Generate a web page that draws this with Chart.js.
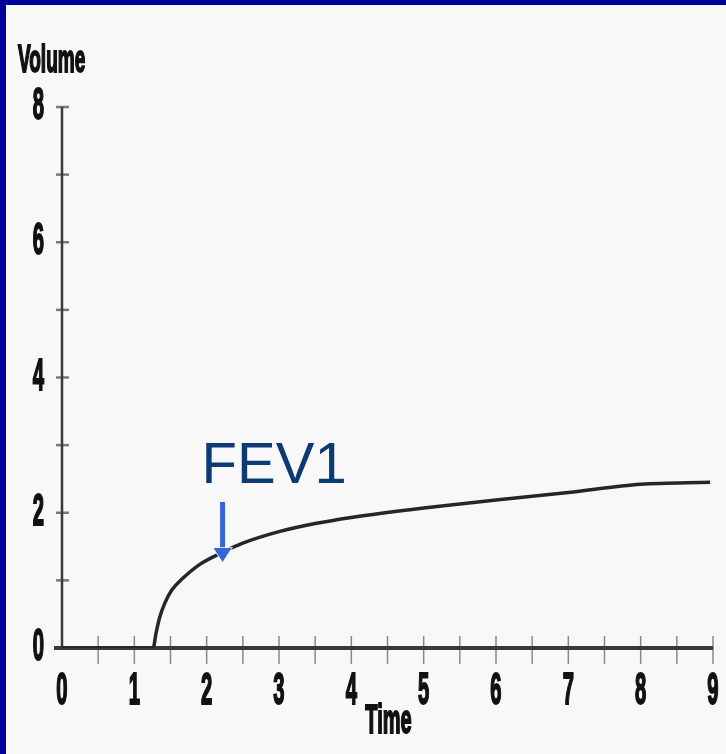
<!DOCTYPE html>
<html>
<head>
<meta charset="utf-8">
<script src="https://cdn.jsdelivr.net/npm/chart.js@4"></script>
<style>
    body { margin: 0; background: #000099; width: 726px; height: 754px; overflow: hidden; }
    #wrap { position: absolute; left: 6px; top: 5px; width: 720px; height: 749px; background: #f8f8f8; }
</style>
</head>
<body>
<div id="wrap"><canvas id="spiroChart" width="720" height="749"></canvas></div>
<script>
// Spirometry curve - volume against time

const timeValues = [0, 1.26, 1.30, 1.35, 1.42, 1.52, 1.67, 1.91, 2.21, 2.50, 3.00, 3.50, 4.00, 5.00, 6.00, 7.00, 8.00, 8.96];
const volumeValues = [0, 0, 0.22, 0.45, 0.66, 0.86, 1.03, 1.24, 1.41, 1.55, 1.72, 1.84, 1.93, 2.07, 2.19, 2.30, 2.42, 2.45];

const xTickLabels = ['0', '1', '2', '3', '4', '5', '6', '7', '8', '9'];
const yTickLabels = ['0', '2', '4', '6', '8'];
const xTickMarks = [0.5, 1, 1.5, 2, 2.5, 3, 3.5, 4, 4.5, 5, 5.5, 6, 6.5, 7, 7.5, 8, 8.5, 9];
const yTickMarks = [1, 2, 3, 4, 5, 6, 7, 8];

const xTitle = 'Time';
const yTitle = 'Volume';
const noteText = 'FEV1';
const notePos = { x: 1.93, y: 2.44 };
const arrowAt = { x: 2.22, from: 2.16, to: 1.27 };

// condensed bold text, squeezed horizontally
function drawNarrow(ctx, text, x, y, size, align, sx) {
    ctx.save();
    ctx.font = 'bold ' + size + 'px "Liberation Sans", Arial, sans-serif';
    ctx.fillStyle = '#111';
    ctx.strokeStyle = '#111';
    ctx.lineWidth = 2;
    ctx.textAlign = align;
    ctx.textBaseline = 'middle';
    ctx.translate(x, y);
    ctx.scale(sx, 1);
    ctx.fillText(text, 0, 0);
    ctx.strokeText(text, 0, 0);
    ctx.restore();
}

const axesPlugin = {
    id: 'oldAxes',
    beforeDatasetsDraw(chart) {
        const ctx = chart.ctx;
        const xs = chart.scales.x;
        const ys = chart.scales.y;
        const x0 = xs.getPixelForValue(0);
        const y0 = ys.getPixelForValue(0);

        ctx.save();
        // tick marks
        ctx.strokeStyle = '#8a8a8a';
        ctx.lineWidth = 1.5;
        xTickMarks.forEach(v => {
            const px = xs.getPixelForValue(v);
            ctx.beginPath();
            ctx.moveTo(px, y0 - 12);
            ctx.lineTo(px, y0 + 16);
            ctx.stroke();
        });
        ctx.lineWidth = 2.5;
        ctx.strokeStyle = '#7a7a7a';
        yTickMarks.forEach(v => {
            const py = ys.getPixelForValue(v);
            ctx.beginPath();
            ctx.moveTo(x0 - 6, py);
            ctx.lineTo(x0 + 7, py);
            ctx.stroke();
        });

        // axis lines
        ctx.strokeStyle = '#3a3a3a';
        ctx.lineWidth = 2.5;
        ctx.beginPath();
        ctx.moveTo(x0, ys.getPixelForValue(8));
        ctx.lineTo(x0, y0);
        ctx.stroke();
        ctx.lineWidth = 4;
        ctx.beginPath();
        ctx.moveTo(x0 - 8, y0);
        ctx.lineTo(xs.getPixelForValue(9), y0);
        ctx.stroke();
        ctx.restore();
    },
    afterDraw(chart) {
        const ctx = chart.ctx;
        const xs = chart.scales.x;
        const ys = chart.scales.y;
        const x0 = xs.getPixelForValue(0);
        const y0 = ys.getPixelForValue(0);

        xTickLabels.forEach(t => {
            drawNarrow(ctx, t, xs.getPixelForValue(Number(t)), y0 + 44, 44, 'center', 0.46);
        });
        yTickLabels.forEach(t => {
            drawNarrow(ctx, t, x0 - 18, ys.getPixelForValue(Number(t)), 44, 'right', 0.46);
        });
        drawNarrow(ctx, xTitle, xs.getPixelForValue(4.5) + 1, y0 + 74, 40, 'center', 0.5);
        drawNarrow(ctx, yTitle, 12, 57, 38, 'left', 0.5);

        // FEV1 annotation
        ctx.save();
        ctx.font = '58px "Liberation Sans", Arial, sans-serif';
        ctx.fillStyle = '#0b3b72';
        ctx.textAlign = 'left';
        ctx.textBaseline = 'alphabetic';
        ctx.fillText(noteText, xs.getPixelForValue(notePos.x), ys.getPixelForValue(notePos.y));

        const ax = xs.getPixelForValue(arrowAt.x);
        const ayTop = ys.getPixelForValue(arrowAt.from);
        const ayTip = ys.getPixelForValue(arrowAt.to);
        ctx.fillStyle = '#3366d6';
        ctx.fillRect(ax - 2.5, ayTop, 5, ayTip - ayTop - 12);
        ctx.beginPath();
        ctx.moveTo(ax - 9, ayTip - 14);
        ctx.lineTo(ax + 9, ayTip - 14);
        ctx.lineTo(ax, ayTip);
        ctx.closePath();
        ctx.strokeStyle = '#ffffff';
        ctx.lineWidth = 1.5;
        ctx.stroke();
        ctx.fill();
        ctx.restore();
    }
};

const ctx = document.getElementById('spiroChart').getContext('2d');
const spiroChart = new Chart(ctx, {
    type: 'line',
    data: {
        datasets: [{
            data: timeValues.map((t, i) => ({ x: t, y: volumeValues[i] })),
            borderColor: '#262626',
            borderWidth: 3.5,
            pointRadius: 0,
            cubicInterpolationMode: 'monotone',
            fill: false
        }]
    },
    options: {
        responsive: false,
        animation: false,
        layout: { padding: { left: 56, right: 13, top: 102, bottom: 106 } },
        plugins: { legend: { display: false }, tooltip: { enabled: false } },
        scales: {
            x: { type: 'linear', min: 0, max: 9, display: false },
            y: { type: 'linear', min: 0, max: 8, display: false }
        }
    },
    plugins: [axesPlugin]
});
</script>
</body>
</html>
